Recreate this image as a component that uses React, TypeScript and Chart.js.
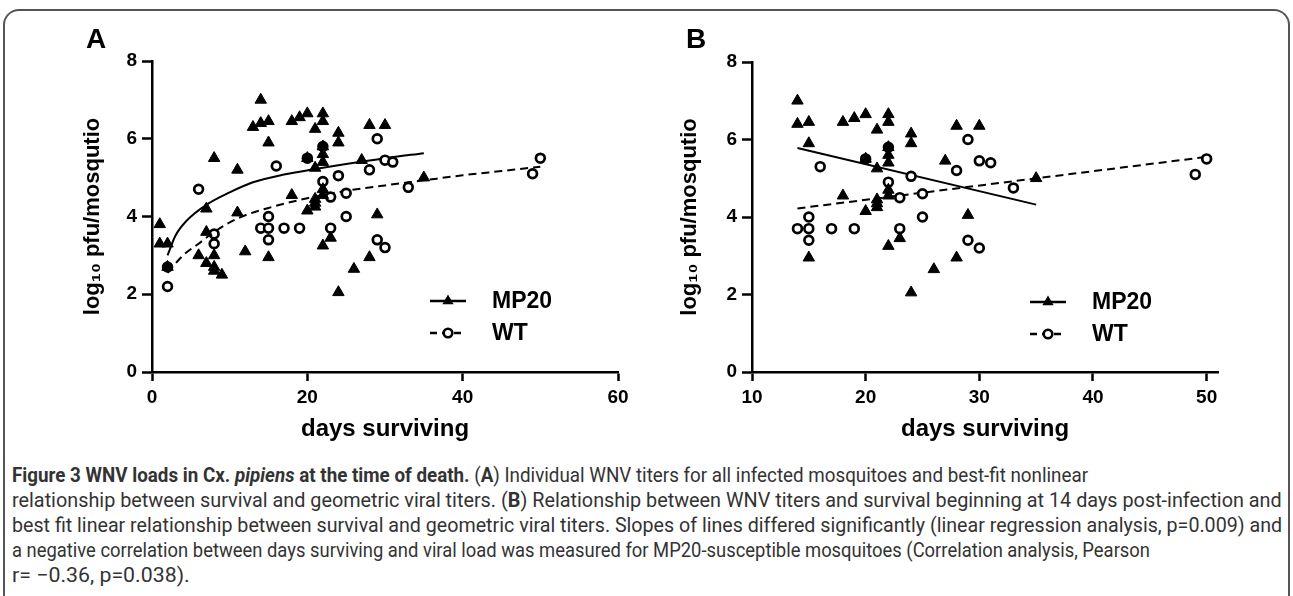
import React, { useEffect, useLayoutEffect, useRef } from "react";
import { Chart, registerables } from "chart.js";

Chart.register(...registerables);

// ---------------- data ----------------
const seriesNames = ["MP20", "WT"];

// MP20 individual titers (days surviving, log10 pfu)
const mp20Days = [1, 1, 2, 2, 6, 7, 7, 7, 8, 8, 8, 8, 9, 11, 11, 12, 13, 14, 14, 15, 15, 15, 18, 18, 19, 20, 20, 20, 21, 21, 21, 21, 21, 22, 22, 22, 22, 22, 22, 22, 22, 23, 24, 24, 24, 26, 27, 28, 28, 29, 30, 35];
const mp20Titer = [3.8, 3.3, 3.3, 2.7, 3.0, 4.2, 3.6, 2.8, 5.5, 3.0, 2.7, 2.6, 2.5, 5.2, 4.1, 3.1, 6.3, 7.0, 6.4, 6.45, 5.9, 2.95, 6.45, 4.55, 6.55, 6.65, 5.5, 4.15, 6.25, 5.25, 4.25, 4.35, 4.45, 6.65, 6.45, 5.8, 5.6, 5.4, 4.55, 4.7, 3.25, 3.45, 6.15, 5.9, 2.05, 2.65, 5.45, 6.35, 2.95, 4.05, 6.35, 5.0];

// WT individual titers
const wtDays = [2, 2, 6, 8, 8, 14, 15, 15, 15, 16, 17, 19, 20, 22, 22, 23, 23, 24, 25, 25, 28, 29, 29, 30, 30, 31, 33, 49, 50];
const wtTiter = [2.7, 2.2, 4.7, 3.55, 3.3, 3.7, 4.0, 3.7, 3.4, 5.3, 3.7, 3.7, 5.5, 5.8, 4.9, 4.5, 3.7, 5.05, 4.6, 4.0, 5.2, 6.0, 3.4, 5.45, 3.2, 5.4, 4.75, 5.1, 5.5];

// Panel A best-fit nonlinear curves
const fitAMp20Days = [2, 3, 4.5, 7, 10, 13, 17, 21, 25, 30, 35];
const fitAMp20Titer = [3.0, 3.5, 3.9, 4.3, 4.62, 4.88, 5.08, 5.22, 5.35, 5.5, 5.63];
const fitAWtDays = [2, 4, 6, 8, 11, 15, 20, 25, 30, 35, 40, 45, 50];
const fitAWtTiter = [2.55, 3.0, 3.3, 3.6, 3.95, 4.22, 4.47, 4.66, 4.8, 4.93, 5.06, 5.17, 5.28];

// Panel B best-fit linear relationships (end points)
const fitBMp20Days = [14, 35];
const fitBMp20Titer = [5.78, 4.32];
const fitBWtDays = [14, 50];
const fitBWtTiter = [4.22, 5.55];

const panelBStartDay = 14;

const xTicksA = [0, 20, 40, 60];
const xTicksB = [10, 20, 30, 40, 50];
const yTicks = [0, 2, 4, 6, 8];

// ---------------- helpers ----------------
const FONT = "'Liberation Sans', Arial, Helvetica, sans-serif";

function pts(xs: number[], ys: number[], minX = -Infinity) {
  return xs.map((x, i) => ({ x, y: ys[i] })).filter((p) => p.x >= minX);
}

const panelLetter = {
  id: "panelLetter",
  afterDraw(chart: any, _a: any, opts: any) {
    const { ctx } = chart;
    ctx.save();
    ctx.fillStyle = "#000";
    ctx.font = `bold 28px ${FONT}`;
    ctx.textBaseline = "alphabetic";
    ctx.textAlign = "left";
    ctx.fillText(opts.text, opts.x, opts.y);
    ctx.restore();
  },
};

const insetLegend = {
  id: "insetLegend",
  afterDraw(chart: any, _a: any, opts: any) {
    const { ctx, chartArea } = chart;
    const x0 = chartArea.left + opts.dx;
    const segW = opts.segW;
    ctx.save();
    seriesNames.forEach((name, i) => {
      const y = chartArea.top + opts.dy[i];
      ctx.strokeStyle = "#000";
      ctx.lineWidth = 2.5;
      ctx.setLineDash(i === 0 ? [] : [7, 5]);
      ctx.beginPath();
      ctx.moveTo(x0, y);
      ctx.lineTo(x0 + segW, y);
      ctx.stroke();
      ctx.setLineDash([]);
      const cx = x0 + segW / 2;
      if (i === 0) {
        const r = 6.5;
        ctx.fillStyle = "#000";
        ctx.beginPath();
        ctx.moveTo(cx, y - r);
        ctx.lineTo(cx + r * Math.sin((2 * Math.PI) / 3), y - r * Math.cos((2 * Math.PI) / 3));
        ctx.lineTo(cx + r * Math.sin((4 * Math.PI) / 3), y - r * Math.cos((4 * Math.PI) / 3));
        ctx.closePath();
        ctx.fill();
      } else {
        ctx.fillStyle = "#fff";
        ctx.lineWidth = 2.6;
        ctx.beginPath();
        ctx.arc(cx, y, 4.3, 0, Math.PI * 2);
        ctx.fill();
        ctx.stroke();
      }
      ctx.fillStyle = "#000";
      ctx.font = `bold 23px ${FONT}`;
      ctx.textBaseline = "middle";
      ctx.textAlign = "left";
      ctx.fillText(name, chartArea.left + opts.textDx, y + 1);
    });
    ctx.restore();
  },
};

interface PanelSpec {
  letter: string;
  letterX: number;
  letterY: number;
  width: number;
  height: number;
  areaLeft: number;
  areaTop: number;
  areaRight: number;
  areaBottom: number;
  yTitlePad: number;
  xMin: number;
  xMax: number;
  xTicks: number[];
  minDay: number;
  mp20Fit: { x: number; y: number }[];
  wtFit: { x: number; y: number }[];
  curved: boolean;
}

function makeConfig(p: PanelSpec): any {
  const xAxisH = 75;
  const fitStyle = {
    showLine: true,
    pointRadius: 0,
    borderColor: "#000",
    borderWidth: 2,
    tension: p.curved ? 0.4 : 0,
    cubicInterpolationMode: p.curved ? "monotone" : "default",
    order: 2,
  };
  return {
    type: "scatter",
    data: {
      datasets: [
        {
          label: seriesNames[0],
          data: pts(mp20Days, mp20Titer, p.minDay),
          pointStyle: "triangle",
          pointRadius: 6.6,
          backgroundColor: "#000",
          borderColor: "#000",
          borderWidth: 1,
          order: 0,
        },
        {
          label: seriesNames[1],
          data: pts(wtDays, wtTiter, p.minDay),
          pointStyle: "circle",
          pointRadius: 4.4,
          backgroundColor: "#fff",
          borderColor: "#000",
          borderWidth: 2.7,
          order: 1,
        },
        { label: seriesNames[0] + " fit", data: p.mp20Fit, ...fitStyle },
        { label: seriesNames[1] + " fit", data: p.wtFit, ...fitStyle, borderDash: [8, 5] },
      ],
    },
    options: {
      animation: false,
      responsive: false,
      maintainAspectRatio: false,
      layout: {
        padding: {
          left: 0,
          top: p.areaTop,
          right: p.width - p.areaRight,
          bottom: p.height - p.areaBottom - xAxisH,
        },
      },
      plugins: {
        legend: { display: false },
        tooltip: { enabled: false },
        panelLetter: { text: p.letter, x: p.letterX, y: p.letterY },
        insetLegend: { dx: 278, segW: 36, textDx: 340, dy: [240, 272] },
      },
      scales: {
        x: {
          type: "linear",
          min: p.xMin,
          max: p.xMax,
          afterBuildTicks: (s: any) => {
            s.ticks = p.xTicks.map((v) => ({ value: v }));
          },
          afterFit: (s: any) => {
            s.height = xAxisH;
            s.paddingLeft = 0;
            s.paddingRight = 0;
            s.paddingTop = 0;
            s.paddingBottom = 0;
          },
          border: { display: true, color: "#000", width: 2.5 },
          grid: {
            display: true,
            drawOnChartArea: false,
            drawTicks: true,
            tickLength: 9,
            tickWidth: 2.5,
            tickColor: "#000",
            color: "#000",
          },
          ticks: {
            color: "#000",
            padding: 5,
            maxRotation: 0,
            autoSkip: false,
            font: { family: FONT, size: 19, weight: "bold" },
          },
          title: {
            display: true,
            text: "days surviving",
            color: "#000",
            font: { family: FONT, size: 24, weight: "bold" },
            padding: { top: 0, bottom: 3 },
          },
        },
        y: {
          type: "linear",
          min: 0,
          max: 8,
          afterBuildTicks: (s: any) => {
            s.ticks = yTicks.map((v) => ({ value: v }));
          },
          afterFit: (s: any) => {
            s.width = p.areaLeft;
            s.paddingLeft = 0;
            s.paddingRight = 0;
            s.paddingTop = 0;
            s.paddingBottom = 0;
          },
          border: { display: true, color: "#000", width: 2.5 },
          grid: {
            display: true,
            drawOnChartArea: false,
            drawTicks: true,
            tickLength: 10,
            tickWidth: 2.5,
            tickColor: "#000",
            color: "#000",
          },
          ticks: {
            color: "#000",
            padding: 5,
            autoSkip: false,
            font: { family: FONT, size: 19, weight: "bold" },
          },
          title: {
            display: true,
            text: "log\u2081\u2080 pfu/mosqutio",
            color: "#000",
            font: { family: FONT, size: 22, weight: "bold" },
            padding: { top: p.yTitlePad, bottom: 0 },
          },
        },
      },
    },
    plugins: [panelLetter, insetLegend],
  };
}

const panelA: PanelSpec = {
  letter: "A",
  letterX: 86,
  letterY: 48,
  width: 646,
  height: 460,
  areaLeft: 152,
  areaTop: 61,
  areaRight: 618,
  areaBottom: 372,
  yTitlePad: 80,
  xMin: 0,
  xMax: 60,
  xTicks: xTicksA,
  minDay: -Infinity,
  mp20Fit: pts(fitAMp20Days, fitAMp20Titer),
  wtFit: pts(fitAWtDays, fitAWtTiter),
  curved: true,
};

const panelB: PanelSpec = {
  letter: "B",
  letterX: 40,
  letterY: 48,
  width: 647,
  height: 460,
  areaLeft: 106,
  areaTop: 62,
  areaRight: 572,
  areaBottom: 372,
  yTitlePad: 31,
  xMin: 10,
  xMax: 51,
  xTicks: xTicksB,
  minDay: panelBStartDay,
  mp20Fit: pts(fitBMp20Days, fitBMp20Titer),
  wtFit: pts(fitBWtDays, fitBWtTiter),
  curved: false,
};

function Panel({ spec, left }: { spec: PanelSpec; left: number }) {
  const ref = useRef<HTMLCanvasElement | null>(null);
  useEffect(() => {
    if (!ref.current) return;
    const chart = new Chart(ref.current, makeConfig(spec));
    return () => chart.destroy();
  }, [spec]);
  return (
    <div style={{ position: "absolute", left, top: 0, width: spec.width, height: spec.height }}>
      <canvas ref={ref} width={spec.width} height={spec.height} style={{ width: spec.width, height: spec.height, display: "block" }} />
    </div>
  );
}

const capFont = "Roboto, 'Open Sans', sans-serif";

function CapLine({ top, width, children }: { top: number; width: number; children: React.ReactNode }) {
  const ref = useRef<HTMLDivElement | null>(null);
  useLayoutEffect(() => {
    const el = ref.current;
    if (!el) return;
    el.style.transform = "none";
    const natural = el.scrollWidth;
    if (natural > 0) el.style.transform = `scaleX(${width / natural})`;
  }, [width]);
  return (
    <div
      ref={ref}
      style={{
        position: "absolute",
        left: 12,
        top,
        whiteSpace: "nowrap",
        fontFamily: capFont,
        fontSize: 20,
        lineHeight: "24px",
        color: "#333",
        transformOrigin: "0 0",
        display: "inline-block",
      }}
    >
      {children}
    </div>
  );
}

export default function App() {
  return (
    <div style={{ position: "absolute", left: 0, top: 0, width: 1293, height: 596, overflow: "hidden", background: "#fff" }}>
      <div
        style={{
          position: "absolute",
          left: 3,
          top: 9,
          width: 1283,
          height: 640,
          border: "2px solid #555",
          borderBottom: "none",
          borderRadius: "16px 16px 0 0",
        }}
      />
      <Panel spec={panelA} left={0} />
      <Panel spec={panelB} left={646} />
      <CapLine top={463} width={1076}>
        <b>Figure 3 WNV loads in Cx. <i>pipiens</i> at the time of death.</b> (<b>A</b>) Individual WNV titers for all infected mosquitoes and best-fit nonlinear
      </CapLine>
      <CapLine top={488} width={1270}>
        relationship between survival and geometric viral titers. (<b>B</b>) Relationship between WNV titers and survival beginning at 14 days post-infection and
      </CapLine>
      <CapLine top={513} width={1270}>
        best fit linear relationship between survival and geometric viral titers. Slopes of lines differed significantly (linear regression analysis, p=0.009) and
      </CapLine>
      <CapLine top={538} width={1138}>
        a negative correlation between days surviving and viral load was measured for MP20-susceptible mosquitoes (Correlation analysis, Pearson
      </CapLine>
      <CapLine top={563} width={178}>r= −0.36, p=0.038).</CapLine>
    </div>
  );
}
